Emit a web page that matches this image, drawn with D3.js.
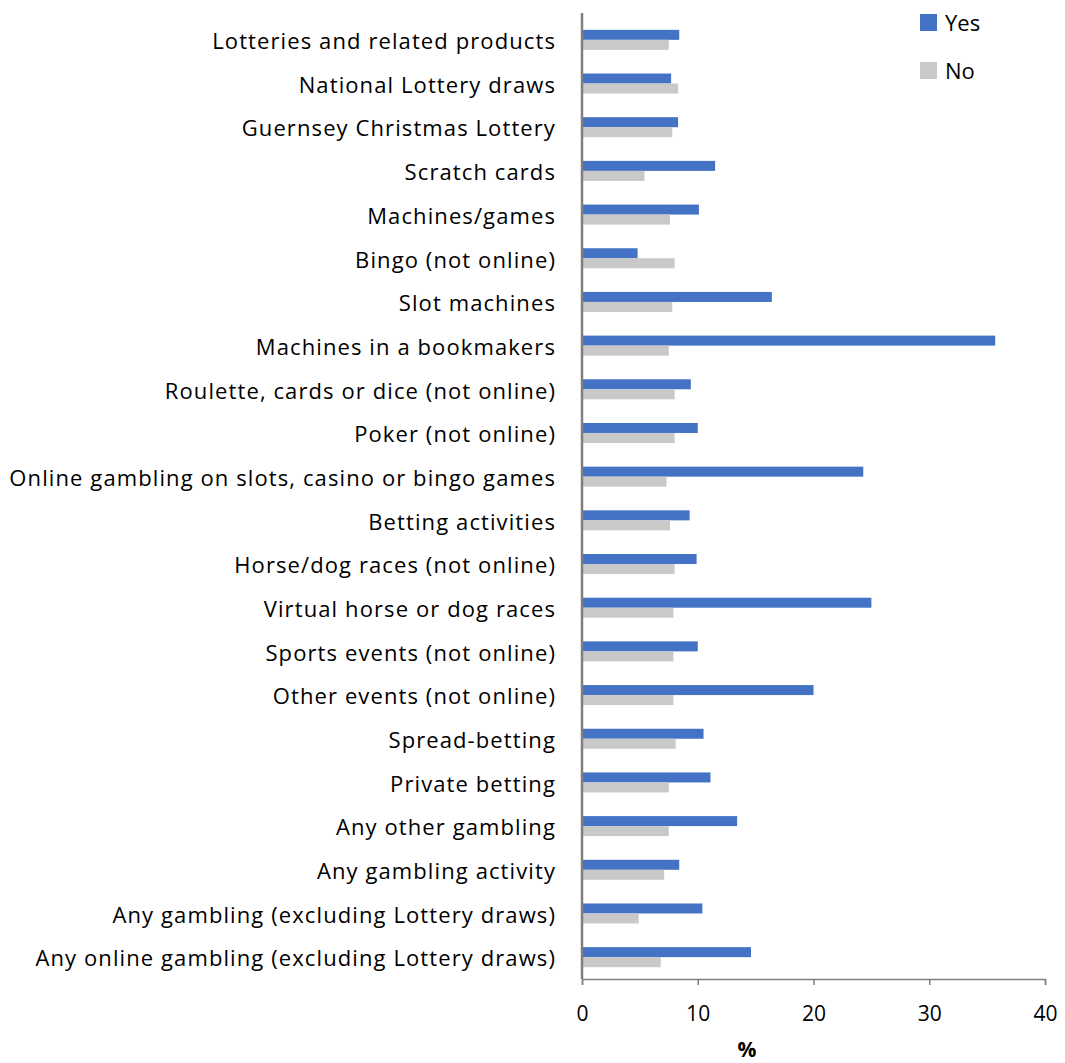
<!DOCTYPE html>
<html>
<head>
<meta charset="utf-8">
<script src="https://cdn.jsdelivr.net/npm/d3@7"></script>
<style>
  html, body { margin: 0; padding: 0; background: #fff; }
  svg { display: block; font-family: "Open Sans", sans-serif; font-variant-ligatures: none; }
</style>
</head>
<body>
<svg id="chart" width="1065" height="1063"></svg>
<script>
// Gambling activity categories, top to bottom
const categories = [
  "Lotteries and related products",
  "National Lottery draws",
  "Guernsey Christmas Lottery",
  "Scratch cards",
  "Machines/games",
  "Bingo (not online)",
  "Slot machines",
  "Machines in a bookmakers",
  "Roulette, cards or dice (not online)",
  "Poker (not online)",
  "Online gambling on slots, casino or bingo games",
  "Betting activities",
  "Horse/dog races (not online)",
  "Virtual horse or dog races",
  "Sports events (not online)",
  "Other events (not online)",
  "Spread-betting",
  "Private betting",
  "Any other gambling",
  "Any gambling activity",
  "Any gambling (excluding Lottery draws)",
  "Any online gambling (excluding Lottery draws)"
];

// Percentages per series
const yesValues = [8.4, 7.7, 8.3, 11.5, 10.1, 4.8, 16.4, 35.7, 9.4, 10.0, 24.3, 9.3,
                   9.9, 25.0, 10.0, 20.0, 10.5, 11.1, 13.4, 8.4, 10.4, 14.6];
const noValues  = [7.5, 8.3, 7.8, 5.4, 7.6, 8.0, 7.8, 7.5, 8.0, 8.0, 7.3, 7.6,
                   8.0, 7.9, 7.9, 7.9, 8.1, 7.5, 7.5, 7.1, 4.9, 6.8];

const seriesNames = ["Yes", "No"];
const seriesColors = ["#4472C4", "#C9C9C9"];
const xTicks = [0, 10, 20, 30, 40];
const xTitle = "%";

const rows = categories.map((c, i) => ({ category: c, Yes: yesValues[i], No: noValues[i] }));

const svg = d3.select("#chart");
const plot = { left: 582, right: 1045, top: 18, bottom: 979 };
const labelFont = "'Open Sans', sans-serif";

const x = d3.scaleLinear().domain([0, 40]).range([plot.left, plot.right]);
const y = d3.scaleBand().domain(categories).range([plot.top, plot.bottom]);
const groupH = y.bandwidth() * 0.458;
const sub = d3.scaleBand().domain(seriesNames).range([0, groupH]);
const color = d3.scaleOrdinal().domain(seriesNames).range(seriesColors);

// Bars
const groups = svg.append("g").selectAll("g")
  .data(rows)
  .join("g")
  .attr("transform", d => `translate(0,${y(d.category) + (y.bandwidth() - groupH) / 2})`);

groups.selectAll("rect")
  .data(d => seriesNames.map(s => ({ series: s, value: d[s] })))
  .join("rect")
  .attr("x", x(0))
  .attr("y", d => sub(d.series))
  .attr("width", d => x(d.value) - x(0))
  .attr("height", sub.bandwidth())
  .attr("fill", d => color(d.series));

// X axis
const xAxis = svg.append("g")
  .attr("transform", `translate(0,${plot.bottom})`)
  .call(d3.axisBottom(x).tickValues(xTicks).tickSize(6).tickPadding(21).tickFormat(d3.format("d")));
xAxis.select(".domain").attr("stroke", "#7F7F7F").attr("stroke-width", 1.5);
xAxis.selectAll(".tick line").attr("stroke", "#7F7F7F").attr("stroke-width", 1.5);
xAxis.selectAll(".tick text")
  .attr("fill", "#000")
  .style("font-size", "21px")
  .style("font-family", labelFont);

// Y axis (category labels)
const yAxis = svg.append("g")
  .attr("transform", `translate(${plot.left},0)`)
  .call(d3.axisLeft(y).tickSize(0).tickPadding(26));
yAxis.select(".domain").attr("stroke", "#7F7F7F").attr("stroke-width", 2.5)
  .attr("d", `M0,${plot.top - 5}V${plot.bottom}`);
yAxis.selectAll(".tick text")
  .attr("fill", "#000")
  .attr("dy", "0.42em")
  .style("font-size", "22px")
  .style("letter-spacing", "1.1px")
  .style("font-family", labelFont);

// Axis title
svg.append("text")
  .attr("x", 747)
  .attr("y", 1057)
  .attr("text-anchor", "middle")
  .attr("font-weight", "bold")
  .style("font-size", "21px")
  .text(xTitle);

// Legend
const legend = svg.append("g").selectAll("g")
  .data(seriesNames)
  .join("g")
  .attr("transform", (d, i) => `translate(920,${14 + i * 48})`);
legend.append("rect")
  .attr("width", 17).attr("height", 17)
  .attr("fill", d => color(d));
legend.append("text")
  .attr("x", 25).attr("y", 17)
  .style("font-size", "22px")
  .text(d => d);
</script>
</body>
</html>
